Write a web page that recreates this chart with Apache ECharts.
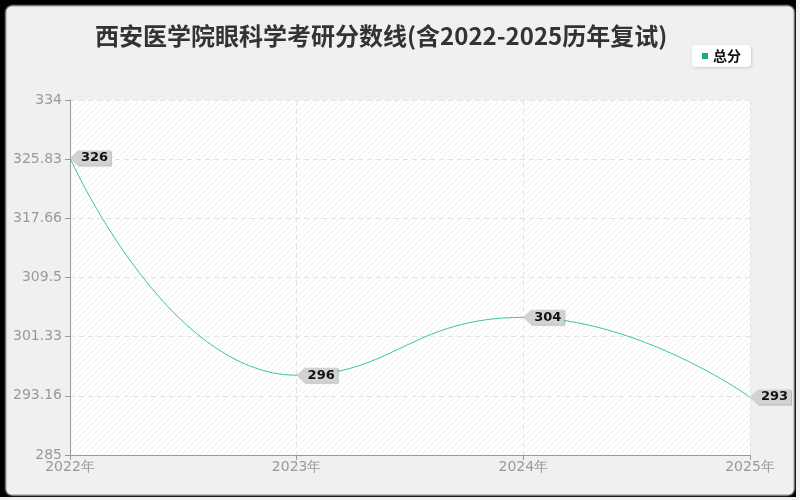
<!DOCTYPE html>
<html>
<head>
<meta charset="utf-8">
<script src="https://cdn.jsdelivr.net/npm/echarts@6/dist/echarts.min.js"></script>
<style>
    html, body { margin: 0; padding: 0; background: #f0f0f0; }
    #main { width: 800px; height: 500px; }
</style>
</head>
<body>
<div id="main"></div>
<script>
    // 数据
    var years = ['2022年', '2023年', '2024年', '2025年'];
    var scores = [326, 296, 304, 293];
    var yTicks = [285, 293.1667, 301.3333, 309.5, 317.6667, 325.8333, 334];
    var yTickLabels = ['285', '293.16', '301.33', '309.5', '317.66', '325.83', '334'];

    // 斜线底纹
    function makeHatch() {
        var c = document.createElement('canvas');
        c.width = 6;
        c.height = 6;
        var ctx = c.getContext('2d');
        ctx.fillStyle = '#ffffff';
        ctx.fillRect(0, 0, 6, 6);
        ctx.strokeStyle = '#efefef';
        ctx.lineWidth = 1;
        ctx.beginPath();
        ctx.moveTo(0, 6);
        ctx.lineTo(6, 0);
        ctx.moveTo(-3, 3);
        ctx.lineTo(3, -3);
        ctx.moveTo(3, 9);
        ctx.lineTo(9, 3);
        ctx.stroke();
        return c;
    }

    var myChart = echarts.init(document.getElementById('main'));
    var tagData = [];
    for (var i = 0; i < years.length; i++) {
        tagData.push({ coord: [years[i], scores[i]], value: scores[i] });
    }

    var option = {
        backgroundColor: '#f0f0f0',
        textStyle: { fontFamily: 'DejaVu Sans, sans-serif' },
        graphic: [
            { type: 'rect', z: -10, silent: true, shape: { x: 0, y: 0, width: 800, height: 500 }, style: { fill: '#000' } },
            { type: 'rect', z: -9, silent: true, shape: { x: 796, y: 0, width: 4, height: 500 }, style: { fill: '#f0f0f0' } },
            { type: 'rect', z: -9, silent: true, shape: { x: 0, y: 497, width: 800, height: 3 }, style: { fill: '#f0f0f0' } },
            { type: 'rect', z: -8, silent: true, shape: { x: 5, y: 5, width: 790, height: 491, r: 7 },
              style: { fill: '#f0f0f0', stroke: '#222', lineWidth: 1.5 } },
            { type: 'rect', z: -8, silent: true, shape: { x: 6, y: 6, width: 788, height: 489, r: 6 },
              style: { fill: 'none', stroke: '#9a9a9a', lineWidth: 1 } }
        ],
        title: {
            text: '西安医学院眼科学考研分数线(含2022-2025历年复试)',
            left: 90,
            top: 19,
            textStyle: {
                fontSize: 24,
                fontWeight: 'bold',
                color: '#333',
                fontFamily: 'Noto Sans CJK SC'
            }
        },
        legend: {
            data: ['总分'],
            right: 49,
            top: 45,
            backgroundColor: '#ffffff',
            borderRadius: 4,
            padding: [4, 10],
            shadowColor: 'rgba(0,0,0,0.15)',
            shadowBlur: 3,
            shadowOffsetX: 1,
            shadowOffsetY: 1,
            itemWidth: 6,
            itemHeight: 6,
            itemGap: 6,
            icon: 'rect',
            textStyle: { fontSize: 14, color: '#111', fontWeight: 'bold', fontFamily: 'Noto Sans CJK SC' }
        },
        grid: {
            left: 70,
            right: 50,
            top: 100,
            bottom: 45,
            show: true,
            borderWidth: 0,
            backgroundColor: { image: makeHatch(), repeat: 'repeat' }
        },
        xAxis: {
            type: 'category',
            data: years,
            boundaryGap: false,
            axisLine: { lineStyle: { color: '#999' } },
            axisTick: { show: true, lineStyle: { color: '#999' } },
            axisLabel: { color: '#999', fontSize: 14, margin: 5 },
            splitLine: { show: true, lineStyle: { color: '#e3e3e3', type: [5, 4] } }
        },
        yAxis: {
            type: 'value',
            min: 285,
            max: 334,
            axisLine: { show: true, lineStyle: { color: '#999' } },
            axisTick: { show: true, lineStyle: { color: '#999' }, customValues: yTicks },
            axisLabel: {
                color: '#999',
                fontSize: 14,
                margin: 8,
                customValues: yTicks,
                formatter: function (v) {
                    var idx = yTicks.indexOf(v);
                    return idx >= 0 ? yTickLabels[idx] : '';
                }
            },
            splitLine: { show: true, lineStyle: { color: '#e3e3e3', type: [5, 4] } }
        },
        series: [
            {
                name: '总分',
                type: 'line',
                data: scores,
                smooth: true,
                showSymbol: false,
                symbol: 'none',
                itemStyle: { color: '#19ad7c' },
                lineStyle: { color: '#3cc79b', width: 1 },
                markPoint: {
                    symbol: 'path://M0,7 L8,0 L41,0 L41,14 L8,14 Z',
                    symbolSize: [41, 15],
                    symbolOffset: [20.5, 0],
                    symbolKeepAspect: false,
                    itemStyle: {
                        color: '#d2d2d2',
                        shadowColor: 'rgba(0,0,0,0.25)',
                        shadowBlur: 1,
                        shadowOffsetX: 1,
                        shadowOffsetY: 1
                    },
                    label: {
                        show: true,
                        position: 'inside',
                        offset: [4, 0],
                        color: '#111',
                        fontSize: 13,
                        fontWeight: 'bold'
                    },
                    data: tagData
                }
            }
        ]
    };
    option && myChart.setOption(option);
</script>
</body>
</html>
